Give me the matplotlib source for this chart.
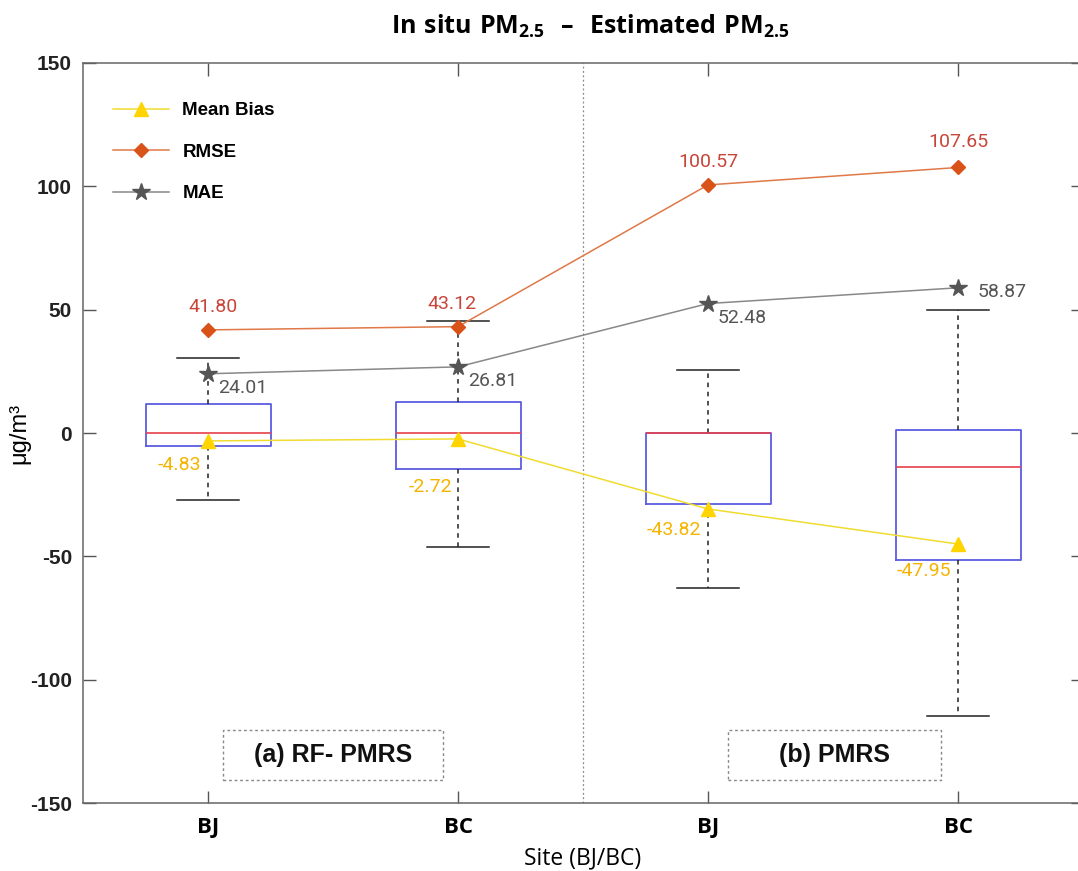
import matplotlib
matplotlib.use("Agg")
import matplotlib.pyplot as plt
from matplotlib.patches import Rectangle

plt.rcParams['mathtext.fontset'] = 'custom'
plt.rcParams['mathtext.rm'] = 'Open Sans'
plt.rcParams['mathtext.bf'] = 'Open Sans:bold'
plt.rcParams['axes.unicode_minus'] = False

# ---- data ----
sites = ["BJ", "BC", "BJ", "BC"]
box_whislo = [-27.2, -46.2, -62.8, -114.7]
box_q1 = [-5.3, -14.6, -28.8, -51.5]
box_med = [0.0, 0.0, 0.0, -13.8]
box_q3 = [11.8, 12.6, 0.0, 1.2]
box_whishi = [30.4, 45.4, 25.5, 49.9]

mean_bias_pos = [-3.2, -2.4, -30.8, -45.0]
mean_bias_lbl = ["-4.83", "-2.72", "-43.82", "-47.95"]
rmse = [41.80, 43.12, 100.57, 107.65]
mae = [24.01, 26.81, 52.48, 58.87]
panel_labels = ["(a) RF- PMRS", "(b) PMRS"]

W, H = 1078, 871
fig = plt.figure(figsize=(W / 100, H / 100), dpi=100)
ax = fig.add_axes([83 / W, (H - 803) / H, 1000 / W, 740 / H])

x = [1, 2, 3, 4]
stats = []
for i in range(4):
    stats.append(dict(whislo=box_whislo[i], q1=box_q1[i], med=box_med[i],
                      q3=box_q3[i], whishi=box_whishi[i], fliers=[]))
ax.bxp(stats, positions=x, widths=0.5, showfliers=False,
       boxprops=dict(color='#5c5ce0', linewidth=1.3),
       medianprops=dict(color='#e8404a', linewidth=1.2),
       whiskerprops=dict(color='#222222', linewidth=1.1, linestyle=(0, (3, 3))),
       capprops=dict(color='#222222', linewidth=1.1),
       capwidths=0.25, zorder=2)

ax.axvline(2.5, color='#888888', linestyle=(0, (1.5, 2)), linewidth=0.9, zorder=1)

l1, = ax.plot(x, mean_bias_pos, color='#f0dc30', linewidth=1.1, marker='^',
              markersize=10, markerfacecolor='#ffd400', markeredgecolor='#ffd400',
              label='Mean Bias', zorder=4)
l2, = ax.plot(x, rmse, color='#e07848', linewidth=1.1, marker='D',
              markersize=7.5, markerfacecolor='#d95319', markeredgecolor='#d95319',
              label='RMSE', zorder=4)
l3, = ax.plot(x, mae, color='#888888', linewidth=1.1, marker='*',
              markersize=13, markerfacecolor='#555555', markeredgecolor='#555555',
              label='MAE', zorder=4)

afont = dict(fontsize=14, family='Roboto')
# RMSE labels above
offs_rmse = [(4, 10), (-4, 10), (0, 10), (0, 12)]
for xi, v, o in zip(x, rmse, offs_rmse):
    ax.annotate(f"{v:.2f}", (xi, v), xytext=o, textcoords='offset points',
                ha='center', va='bottom', color='#c8453a', **afont)
# MAE labels below right
offs_mae = [(7, -4), (7, -4), (7, -4), (14, -3)]
vas = ['top', 'top', 'top', 'center']
for xi, v, o, va in zip(x, mae, offs_mae, vas):
    ax.annotate(f"{v:.2f}", (xi, v), xytext=o, textcoords='offset points',
                ha='left', va=va, color='#555555', **afont)
# Mean bias labels below left
offs_mb = [(-5, -11), (-4, -28), (-5, -9), (-5, -13)]
for xi, v, t, o in zip(x, mean_bias_pos, mean_bias_lbl, offs_mb):
    ax.annotate(t, (xi, v), xytext=o, textcoords='offset points',
                ha='right', va='top', color='#f5b400', **afont)

ax.set_xlim(0.5, 4.5)
ax.set_ylim(-150, 150)
ax.set_yticks([-150, -100, -50, 0, 50, 100, 150])
ax.set_xticks(x)
ax.set_xticklabels(sites, fontsize=16, fontweight='bold', family='Open Sans')
for lab in ax.get_yticklabels():
    lab.set_fontsize(15)
    lab.set_fontweight('bold')
    lab.set_family('Liberation Sans')
    lab.set_color('#222222')
ax.tick_params(direction='in', length=9, width=1, color='#555555',
               top=True, right=True, pad=8)
ax.tick_params(axis='x', pad=10)
for s in ax.spines.values():
    s.set_color('#666666')
    s.set_linewidth(1.1)

ax.set_xlabel("Site (BJ/BC)", fontsize=16.5, family='Open Sans', labelpad=6)
ax.set_ylabel("μg/m³", fontsize=17, family='Liberation Sans', labelpad=0)

leg = ax.legend(handles=[l1, l2, l3], loc='upper left', bbox_to_anchor=(0.013, 0.97),
                frameon=False, handlelength=3.0, handletextpad=0.7, labelspacing=1.3,
                prop=dict(family='Liberation Sans', weight='bold', size=13.5))

# panel label boxes
for (x0, x1), t in zip([(1.06, 1.94), (3.08, 3.93)], panel_labels):
    r = Rectangle((x0, -140.5), x1 - x0, 20, fill=False, edgecolor='#888888',
                  linestyle=(0, (2, 2)), linewidth=1.0, zorder=3)
    ax.add_patch(r)
    ax.text((x0 + x1) / 2, -130.5, t, ha='center', va='center', fontsize=18,
            fontweight='bold', family='Liberation Sans', color='#111111')

fig.text(590 / W, 1 - 26 / H,
         r"$\mathbf{In\ situ\ PM_{2.5}\ \ –\ \ Estimated\ PM_{2.5}}$",
         ha='center', va='center', fontsize=18)

fig.savefig("out.png", dpi=100)
